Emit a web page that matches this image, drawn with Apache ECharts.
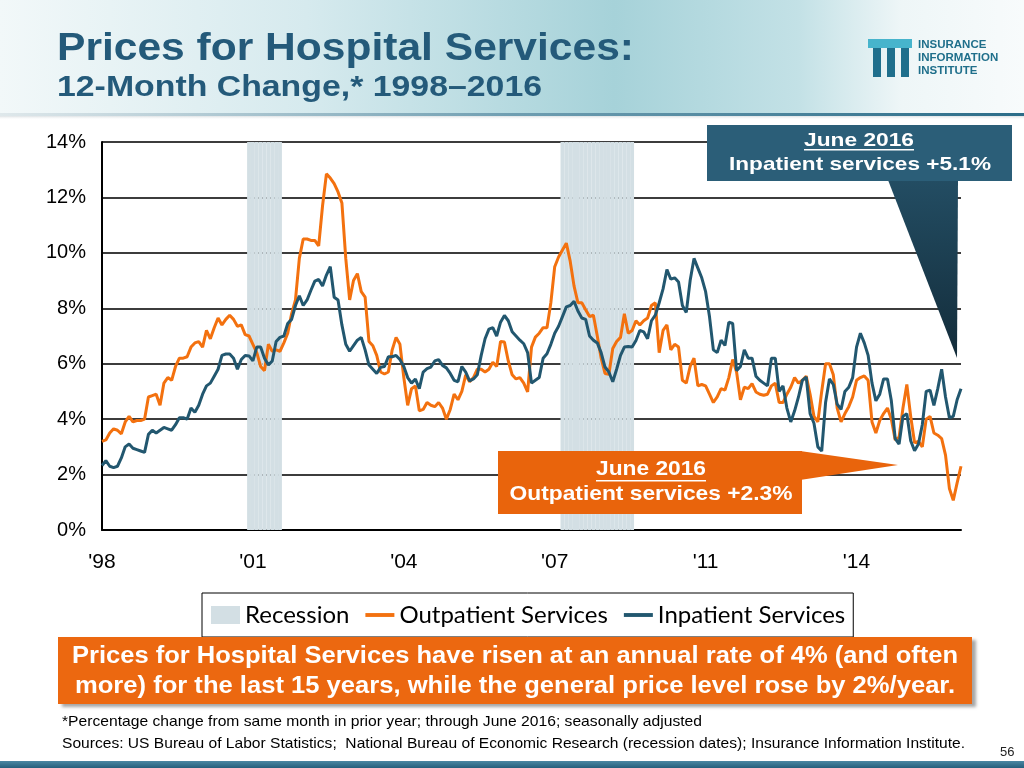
<!DOCTYPE html>
<html><head><meta charset="utf-8">
<script src="https://cdn.jsdelivr.net/npm/echarts@6/dist/echarts.min.js"></script>
<style>html,body{margin:0;padding:0;background:#fff}#c{width:1024px;height:768px}</style>
</head><body><div id="c"></div>
<script>
// ---------- DATA ----------
const startYear = 1998;
const monthCount = 223; // Jan 1998 .. Jun 2016
const xTickLabels = ["'98", "'01", "'04", "'07", "'11", "'14"];
const xTickEvery = 39; // months between tick labels
const yMin = 0, yMax = 14, yStep = 2;
const recessions = [['2001-03', '2001-11'], ['2007-12', '2009-06']];
const seriesNames = ['Recession', 'Outpatient Services', 'Inpatient Services'];

const outpatient = [
  3.2, 3.25, 3.5, 3.65, 3.6, 3.47, 3.9, 4.1, 3.9, 3.95, 3.95, 4.0,
  4.8, 4.85, 4.9, 4.5, 5.3, 5.5, 5.4, 5.9, 6.2, 6.2, 6.25, 6.6,
  6.75, 6.8, 6.6, 7.2, 6.9, 7.3, 7.65, 7.4, 7.6, 7.75, 7.6, 7.35,
  7.4, 7.05, 7.0, 6.7, 6.4, 5.9, 5.75, 6.7, 6.45, 6.5, 6.45, 6.75,
  7.1, 7.8, 8.3, 9.8, 10.5, 10.5, 10.45, 10.45, 10.25, 11.7, 12.85, 12.7,
  12.5, 12.2, 11.8, 9.8, 8.3, 9.0, 9.25, 8.6, 8.4, 6.8, 6.65, 6.3,
  5.7, 5.63, 5.7, 6.5, 6.95, 6.7, 5.5, 4.5, 5.1, 5.2, 4.3, 4.35,
  4.6, 4.5, 4.45, 4.6, 4.4, 4.0, 4.35, 4.9, 4.7, 5.0, 5.6, 5.35,
  5.5, 5.8, 5.8, 5.7, 5.8, 6.05, 5.9, 6.8, 6.78, 6.1, 5.6, 5.45,
  5.5, 5.3, 4.98, 6.6, 6.96, 7.1, 7.3, 7.3, 8.2, 9.5, 9.85, 10.1,
  10.35, 9.7, 8.8, 8.2, 8.2, 7.95, 7.7, 7.75, 7.0, 6.2, 5.65, 5.62,
  6.55, 6.8, 6.95, 7.8, 7.1, 7.2, 7.55, 7.4, 7.55, 7.65, 8.1, 8.2,
  6.4, 7.2, 7.4, 6.5, 6.7, 6.6, 5.4, 5.3, 5.9, 6.2, 5.2, 5.25,
  5.2, 4.9, 4.6, 4.8, 5.1, 5.05, 5.5, 6.15, 5.7, 4.7, 5.15, 5.1,
  5.28, 4.98, 4.9, 4.86, 4.9, 5.2, 5.3, 4.6, 4.6, 4.9, 5.15, 5.5,
  5.3, 5.4, 5.55, 4.9, 4.1, 3.9, 5.0, 6.0, 6.0, 5.6, 4.4, 3.9,
  4.2, 4.45, 4.8, 5.4, 5.5, 5.56, 5.4, 3.9, 3.5, 3.95, 4.2, 4.4,
  4.0, 3.25, 3.35, 4.4, 5.25, 4.1, 3.15, 3.2, 3.0, 4.0, 4.1, 3.5,
  3.42, 3.3, 2.7, 1.5, 1.07, 1.7, 2.3
];

const inpatient = [
  2.33, 2.5, 2.3, 2.25, 2.3, 2.6, 3.0, 3.1, 2.95, 2.9, 2.85, 2.8,
  3.45, 3.6, 3.5, 3.6, 3.7, 3.65, 3.6, 3.8, 4.05, 4.05, 4.0, 4.4,
  4.25, 4.5, 4.9, 5.2, 5.3, 5.55, 5.8, 6.3, 6.35, 6.35, 6.2, 5.8,
  6.15, 6.3, 6.28, 6.1, 6.6, 6.6, 6.2, 5.95, 6.1, 6.8, 6.95, 7.0,
  7.45, 7.6, 8.1, 8.45, 8.1, 8.3, 8.65, 8.98, 9.04, 8.8, 9.2, 9.5,
  8.4, 8.3, 7.4, 6.7, 6.45, 6.65, 6.85, 6.95, 6.5, 5.95, 5.8, 5.65,
  5.87, 5.9, 6.25, 6.25, 6.3, 6.15, 5.9, 5.5, 5.3, 5.45, 5.1, 5.7,
  5.82, 5.88, 6.1, 6.15, 5.94, 5.85, 5.65, 5.4, 5.35, 5.9, 5.7, 5.38,
  5.45, 5.6, 6.3, 6.9, 7.25, 7.3, 7.0, 7.5, 7.74, 7.55, 7.15, 7.0,
  6.85, 6.72, 6.4, 5.3, 5.4, 5.5, 6.2, 6.36, 6.7, 7.1, 7.35, 7.7,
  8.05, 8.1, 8.25, 7.9, 7.65, 7.6, 7.0, 6.85, 6.75, 6.4, 5.88, 5.7,
  5.35, 5.8, 6.3, 6.6, 6.62, 6.6, 6.84, 7.2, 7.15, 6.9, 7.55, 7.75,
  8.2, 8.7, 9.4, 9.05, 9.1, 8.95, 8.1, 7.85, 9.0, 9.8, 9.45, 9.1,
  8.6, 7.7, 6.5, 6.4, 6.85, 6.66, 7.5, 7.45, 5.75, 5.9, 6.5, 6.2,
  6.2, 5.55, 5.4, 5.3, 5.2, 6.2, 6.2, 5.0, 5.2, 4.4, 3.9, 4.3,
  4.8, 5.4, 5.52, 4.2, 3.85, 3.0, 2.85, 4.6, 5.45, 5.25, 4.54, 4.35,
  5.0, 5.15, 5.5, 6.6, 7.1, 6.75, 6.3, 5.3, 4.66, 4.9, 5.45, 5.45,
  4.66, 3.3, 3.1, 4.1, 4.2, 3.22, 2.86, 3.1, 3.8, 5.0, 5.05, 4.5,
  5.1, 5.8, 4.8, 4.05, 4.1, 4.7, 5.1
];

// ---------- BUILD ----------
const categories = [];
for (let i = 0; i < monthCount; i++) {
  const y = startYear + Math.floor(i / 12), m = i % 12 + 1;
  categories.push(y + '-' + String(m).padStart(2, '0'));
}
const recessionBars = categories.map(c => recessions.some(r => c >= r[0] && c <= r[1]) ? yMax : '-');

const SANS = '"Liberation Sans", Arial, Helvetica, sans-serif';
const NARROW = '"Liberation Sans Narrow", "Arial Narrow", "Liberation Sans", Arial, sans-serif';
const mctx = document.createElement('canvas').getContext('2d');
function fit(text, font, target) { mctx.font = font; return target / mctx.measureText(text).width; }
function fitText(text, font, width, x, y, fill, align, z) {
  const s = fit(text, font, width);
  return { type: 'text', x: x, y: y, scaleX: s, z: z || 50,
    style: { text: text, font: font, fill: fill, align: align || 'left', verticalAlign: 'middle' } };
}

const C_ORANGE = '#f3710f', C_BLUE = '#22576f', C_TITLE = '#245a7a';

const titleFont = 'bold 39px ' + SANS;
const subFont = 'bold 29px ' + SANS;
const bannerFont = 'bold 23px ' + SANS;
const noteFont = '15px ' + SANS;
const boxFont = 'bold 19px ' + SANS;
const LINE_ICON = 'path://M0,0 L30,0 L30,4 L0,4 Z';

const graphics = [
  // header band
  { type: 'rect', z: -10, shape: { x: 0, y: 0, width: 1024, height: 114 },
    style: { fill: new echarts.graphic.LinearGradient(0, 0, 1, 0, [
      { offset: 0, color: '#f2f8f9' }, { offset: 0.3, color: '#d6eaee' },
      { offset: 0.6, color: '#a6d2d9' }, { offset: 0.78, color: '#c3e1e6' },
      { offset: 0.88, color: '#eef6f7' }, { offset: 1, color: '#f8fbfc' }]) } },
  { type: 'rect', z: -9, shape: { x: 0, y: 113, width: 1024, height: 3 },
    style: { fill: new echarts.graphic.LinearGradient(0, 0, 1, 0, [
      { offset: 0, color: '#dfe8eb' }, { offset: 0.5, color: '#6f9eb1' }, { offset: 1, color: '#2c6d89' }]) } },
  { type: 'rect', z: -9, shape: { x: 0, y: 116, width: 1024, height: 4 },
    style: { fill: new echarts.graphic.LinearGradient(0, 0, 0, 1, [
      { offset: 0, color: 'rgba(120,140,150,0.25)' }, { offset: 1, color: 'rgba(255,255,255,0)' }]) } },
  fitText('Prices for Hospital Services:', titleFont, 577, 57, 49, C_TITLE),
  fitText('12-Month Change,* 1998\u20132016', subFont, 485, 57, 88, C_TITLE),
  // logo
  { type: 'rect', z: 20, shape: { x: 868, y: 39, width: 44, height: 9 }, style: { fill: '#47b4cc' } },
  { type: 'rect', z: 21, shape: { x: 873, y: 48, width: 8, height: 29 }, style: { fill: '#1f6f8c' } },
  { type: 'rect', z: 21, shape: { x: 887, y: 48, width: 8, height: 29 }, style: { fill: '#1f6f8c' } },
  { type: 'rect', z: 21, shape: { x: 901, y: 48, width: 8, height: 29 }, style: { fill: '#1f6f8c' } },
  { type: 'text', z: 21, x: 918, y: 45, style: { text: 'INSURANCE', font: 'bold 11.5px ' + SANS, fill: '#1f6f8b', verticalAlign: 'middle' } },
  { type: 'text', z: 21, x: 918, y: 58, style: { text: 'INFORMATION', font: 'bold 11.5px ' + SANS, fill: '#1f6f8b', verticalAlign: 'middle' } },
  { type: 'text', z: 21, x: 918, y: 71, style: { text: 'INSTITUTE', font: 'bold 11.5px ' + SANS, fill: '#1f6f8b', verticalAlign: 'middle' } },
  // inpatient callout
  { type: 'polygon', z: 60, shape: { points: [[888, 180], [958, 180], [957, 358]] },
    style: { fill: new echarts.graphic.LinearGradient(0, 0, 0, 1, [
      { offset: 0, color: '#234d63' }, { offset: 1, color: '#132c3a' }]) } },
  { type: 'rect', z: 61, shape: { x: 707, y: 125, width: 305, height: 56 }, style: { fill: '#2b5e78' } },
  fitText('June 2016', boxFont, 110, 859, 141, '#fff', 'center', 62),
  { type: 'rect', z: 62, shape: { x: 804, y: 149, width: 110, height: 1.6 }, style: { fill: '#fff' } },
  fitText('Inpatient services +5.1%', boxFont, 262, 860, 165, '#fff', 'center', 62),
  // outpatient callout
  { type: 'polygon', z: 60, shape: { points: [[800, 451], [898, 465], [800, 480]] }, style: { fill: '#e9640c' } },
  { type: 'rect', z: 61, shape: { x: 498, y: 451, width: 304, height: 63 }, style: { fill: '#e9640c' } },
  fitText('June 2016', 'bold 21px ' + NARROW, 110, 651, 469, '#fff', 'center', 62),
  { type: 'rect', z: 62, shape: { x: 596, y: 480, width: 110, height: 1.6 }, style: { fill: '#fff' } },
  fitText('Outpatient services +2.3%', 'bold 21px ' + NARROW, 283, 651, 494, '#fff', 'center', 62),
  // banner
  { type: 'rect', z: 30, shape: { x: 58, y: 637, width: 914, height: 67 },
    style: { fill: '#ec6810', shadowBlur: 3, shadowOffsetX: 4, shadowOffsetY: 3, shadowColor: 'rgba(0,0,0,0.35)' } },
  fitText('Prices for Hospital Services have risen at an annual rate of 4% (and often', bannerFont, 886, 515, 657, '#fff', 'center', 31),
  fitText('more) for the last 15 years, while the general price level rose by 2%/year.', bannerFont, 880, 515, 687, '#fff', 'center', 31),
  // notes
  fitText('*Percentage change from same month in prior year; through June 2016; seasonally adjusted', noteFont, 640, 62, 722, '#000', 'left', 31),
  fitText('Sources: US Bureau of Labor Statistics;  National Bureau of Economic Research (recession dates); Insurance Information Institute.', noteFont, 903, 62, 744, '#000', 'left', 31),
  { type: 'text', z: 31, x: 1000, y: 752, style: { text: '56', font: '13px ' + SANS, fill: '#222', verticalAlign: 'middle' } },
  // bottom bar
  { type: 'rect', z: 30, shape: { x: 0, y: 761, width: 1024, height: 7 },
    style: { fill: new echarts.graphic.LinearGradient(0, 0, 0, 1, [
      { offset: 0, color: '#4a87a3' }, { offset: 1, color: '#245f7c' }]) } }
];

const chart = echarts.init(document.getElementById('c'), null, { renderer: 'canvas' });
chart.setOption({
  animation: false,
  backgroundColor: '#fff',
  grid: { left: 102, right: 63, top: 142, bottom: 238, containLabel: false },
  legend: {
    left: 202, top: 593, orient: 'horizontal', selectedMode: false,
    backgroundColor: '#fff', borderColor: '#000', borderWidth: 1,
    padding: [10, 8, 10, 9], itemGap: 16, itemWidth: 29, itemHeight: 18,
    textStyle: { fontFamily: 'Lato, "Open Sans", sans-serif', fontSize: 24, color: '#000', lineHeight: 23 },
    data: [{ name: seriesNames[0], icon: 'rect' },
           { name: seriesNames[1], icon: LINE_ICON },
           { name: seriesNames[2], icon: LINE_ICON }]
  },
  xAxis: {
    type: 'category', data: categories, boundaryGap: false,
    axisLine: { show: true, lineStyle: { color: '#000', width: 2 } },
    axisTick: { show: false },
    splitLine: { show: false },
    axisLabel: {
      interval: xTickEvery - 1, margin: 22, color: '#000', fontSize: 21, fontFamily: NARROW,
      formatter: (v, idx) => (idx % xTickEvery === 0 ? xTickLabels[idx / xTickEvery] : '')
    }
  },
  yAxis: {
    type: 'value', min: yMin, max: yMax, interval: yStep,
    axisLine: { show: true, lineStyle: { color: '#000', width: 2 } },
    axisTick: { show: false },
    splitLine: { show: true, lineStyle: { color: '#3c3c3c', width: 2 } },
    axisLabel: { formatter: '{value}%', margin: 16, color: '#000', fontSize: 20, fontFamily: SANS }
  },
  series: [
    { name: seriesNames[0], type: 'bar', data: recessionBars, barWidth: '100%', barCategoryGap: '0%',
      itemStyle: { color: '#d3dfe4' }, z: 1, silent: true },
    { name: seriesNames[1], type: 'line', data: outpatient, symbol: 'none', z: 3,
      lineStyle: { color: C_ORANGE, width: 3 }, itemStyle: { color: C_ORANGE } },
    { name: seriesNames[2], type: 'line', data: inpatient, symbol: 'none', z: 4,
      lineStyle: { color: C_BLUE, width: 3 }, itemStyle: { color: C_BLUE } }
  ],
  graphic: graphics
});
</script></body></html>
